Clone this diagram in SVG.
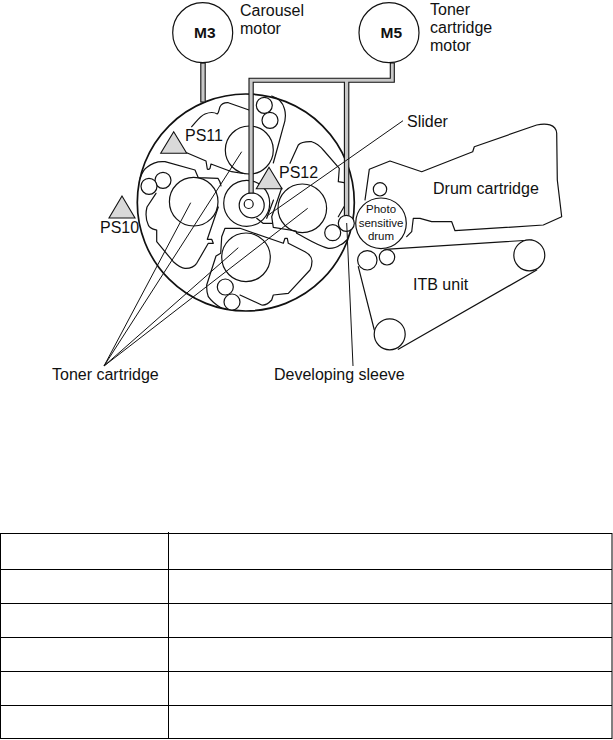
<svg xmlns="http://www.w3.org/2000/svg" width="613" height="740" viewBox="0 0 613 740">
<style>
text{font-family:"Liberation Sans",Arial,sans-serif;font-size:16px;fill:#111}
.m{font-weight:bold;font-size:15.5px}
.d{font-size:11.5px}
.o{fill:none;stroke:#111;stroke-width:1.2;stroke-linejoin:round;stroke-linecap:round}
.c{fill:#fff;stroke:#111;stroke-width:1.2}
.n{fill:none;stroke:#111;stroke-width:1.2}
.b{fill:#fff;stroke:#111;stroke-width:1.7}
.l{stroke:#111;stroke-width:1;fill:none}
.s{fill:#c8c8c8;stroke:#111;stroke-width:1.1}
.t{fill:#d9d9d9;stroke:#111;stroke-width:1.1}
.r{stroke:#000;stroke-width:1;fill:none}
</style>
<g id="carousel">
<circle class="b" cx="245.8" cy="202.5" r="108.5"/>
</g>
<g id="cartridge-top">
<path class="o" d="M191.7 126.7C196 122 200 116 205 114C210 112 214 112 217.3 114C219 113 219 109 220 106.7C222 103 225 102.5 228.3 102.7L249 110M271.7 96C278 98 283 103 284.5 109C286.5 116 285 122 283.3 126.7L278.3 145L273.3 163M186.7 152.7L206 161L207.3 169C208.5 169.8 209.5 169 210 168.3L211 164L231.7 171.7L243 173.5"/>
<circle class="n" cx="249.3" cy="150" r="24"/>
<circle class="c" cx="264.3" cy="105.3" r="8"/>
<circle class="c" cx="270" cy="120.3" r="8"/>
</g>
<g id="cartridge-left">
<path class="o" d="M140 178.3C142 173 144 169 147 167.3C152 163 158 161 165 161.7L195 170L198.3 177.7L218 178.3C220 181 220.5 183 221 186M156 193.3L147 207C145 215 146 220 148.3 225C150 229 153 229 156.7 230L156.7 241.7L173.3 261.7C177 265 181 268.3 185 268.3C190 268.5 194 267 196.7 263.3L208.3 243.3L213.3 243.3L211.7 239.3H207.3L218.3 207"/>
<circle class="n" cx="193.7" cy="201.7" r="24.3"/>
<circle class="c" cx="163" cy="180.3" r="8"/>
<circle class="c" cx="149" cy="186.3" r="8"/>
</g>
<g id="cartridge-right">
<path class="o" d="M290 163.3L298.3 145C301 142 306 141.5 311.7 141.7C316 143 320 146 323.3 150L339.3 168.3L338.3 181.7L344 182.7M338.3 216.7L344 206.7M346.7 240C344 243 342 244.5 340 245C336 248 332 248.5 328.3 248.3C318 246 306 238 296.7 233.3L296 231L273.3 227.3L271.7 216.7L281.7 188M256.7 218.3L263 223.3H271.7M266.7 218.3L273.5 200"/>
<circle class="n" cx="302.3" cy="208.3" r="24.3"/>
<circle class="c" cx="332.7" cy="232.7" r="8"/>
</g>
<g id="cartridge-bottom">
<path class="o" d="M225 228.3H240L283.3 243.3L285 238.3H287.3L288.3 243.3L305 251.7C309 254 312 257 312 261C312 265 311 268 310 270L288.3 293.3L273.3 295L271.7 300C268 304 265 305.5 261.7 305L240 295M225 228.3L221.7 236.7L220.7 253.3L216 256L206.7 285C206.5 289 207 293 208.3 296.7C212 302 216 305 221.7 308.3"/>
<circle class="n" cx="246" cy="257.3" r="24.3"/>
<circle class="c" cx="225.3" cy="287" r="8"/>
<circle class="c" cx="232" cy="302" r="8"/>
</g>
<g id="hub">
<circle class="n" cx="246.7" cy="203.3" r="23"/>
<circle class="c" cx="251.7" cy="205.3" r="12.5"/>
<circle class="c" cx="248.7" cy="204" r="4.5"/>
</g>
<g id="connectors">
<rect class="s" x="200.8" y="63" width="4.4" height="39"/>
<path class="s" d="M249 193V78.3H390.3V63H394.3V82.3H348.8V216H344.4V82.3H253.2V193Z"/>
</g>
<g id="sleeve"><circle class="c" cx="346.3" cy="223.3" r="8"/></g>
<g id="leaders">
<path class="l" d="M268.3 215L403 120.7M104 366L241.7 151.7M104 366L190.7 202.7M104 366L238.3 247.7M104 366L307.7 208.3M346.7 223L353 366"/>
</g>
<g id="sensor-ps11"><path class="t" d="M173.7 131.7L160.7 153.3H186.7Z"/><text x="185" y="140.5">PS11</text></g>
<g id="sensor-ps12"><path class="t" d="M269 167.3L256.3 188.7H282Z"/><text x="279" y="178.3">PS12</text></g>
<g id="sensor-ps10"><path class="t" d="M122 196L109 218H135Z"/><text x="100" y="233">PS10</text></g>
<g id="motor-m3"><circle class="c" cx="202.7" cy="32.7" r="30"/><text class="m" x="204.8" y="38" text-anchor="middle">M3</text></g>
<g id="motor-m5"><circle class="c" cx="389" cy="32.7" r="30"/><text class="m" x="391.3" y="38" text-anchor="middle">M5</text></g>
<g id="motor-labels">
<text x="240" y="15.5">Carousel</text><text x="240" y="34">motor</text>
<text x="430" y="15">Toner</text><text x="430" y="33">cartridge</text><text x="430" y="51">motor</text>
<text x="407" y="127">Slider</text>
</g>
<g id="drum-cartridge">
<path class="o" d="M365 200L369.3 169.3L390 161L421.7 171.7L472.7 151.7L474.3 146.7L536.7 125C546 123 556 124 556.7 133.3L557.3 180L561.7 216.7L543.3 225L455 230.7L451.7 221.7L431.7 221.7L420 218.3H413.3L411.7 231.7L406.7 236.7"/>
<circle class="c" cx="380" cy="189.3" r="6.7"/>
<text x="433" y="194">Drum cartridge</text>
</g>
<g id="photosensitive-drum">
<circle class="c" cx="381" cy="223.3" r="25.3"/>
<text class="d" x="381" y="212.7" text-anchor="middle">Photo</text>
<text class="d" x="381" y="226.7" text-anchor="middle">sensitive</text>
<text class="d" x="381" y="240" text-anchor="middle">drum</text>
</g>
<g id="itb-unit">
<path class="o" d="M385 249.3L531.7 240M536.7 270L398.3 349.3M374.3 330L358.3 266.7"/>
<circle class="c" cx="367.3" cy="260.3" r="9.7"/>
<circle class="c" cx="387" cy="257.3" r="7.7"/>
<circle class="c" cx="529.3" cy="255.3" r="15.5"/>
<circle class="c" cx="389.7" cy="334.3" r="15.5"/>
<text x="413" y="290">ITB unit</text>
</g>
<g id="callouts">
<text x="52" y="380">Toner cartridge</text>
<text x="274" y="380">Developing sleeve</text>
</g>
<g id="table">
<rect class="r" x="0.5" y="533.5" width="611.5" height="205"/>
<path class="r" d="M168.5 532V739M0 569.5H612M0 603.5H612M0 637.5H612M0 671.5H612M0 705.5H612"/>
</g>
</svg>
